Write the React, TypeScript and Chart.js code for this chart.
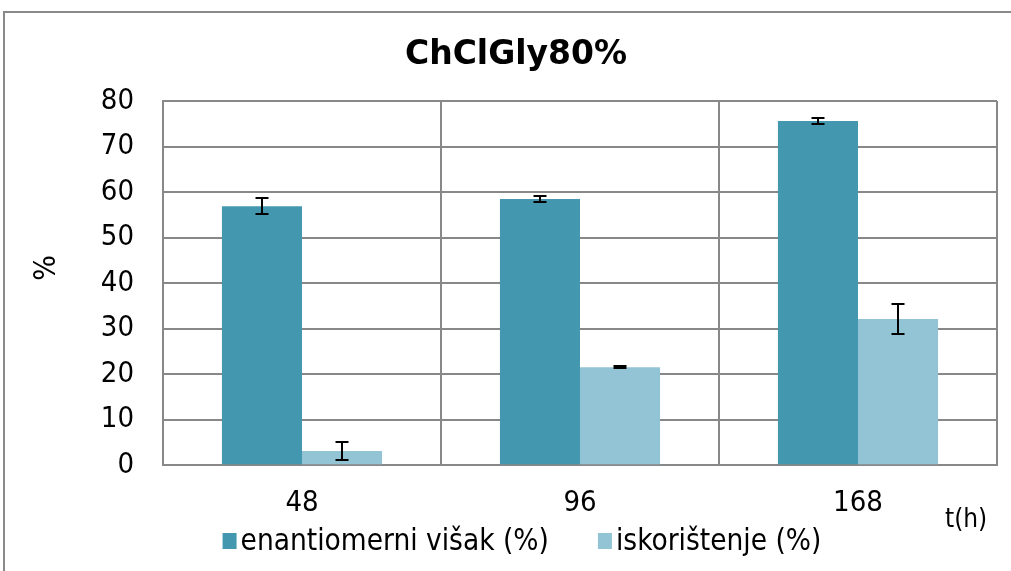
import React, { useEffect, useRef } from "react";
import { Chart, registerables } from "chart.js";

Chart.register(...registerables);

const categories = ["48", "96", "168"];
const seriesLabels = ["enantiomerni višak (%)", "iskorištenje (%)"];
const enantiomerniVisak = [56.9, 58.5, 75.6];
const enantiomerniVisakErr = [1.75, 0.7, 0.6];
const iskoristenje = [3.1, 21.5, 32.1];
const iskoristenjeErr = [2.0, 0.2, 3.2];
const yTicks = [0, 10, 20, 30, 40, 50, 60, 70, 80];
const titleText = "ChClGly80%";
const yTitle = "%";
const xTitle = "t(h)";

const FONT = '"DejaVu Sans Condensed", "DejaVu Sans", sans-serif';
const TITLE_FONT = '"DejaVu Sans", sans-serif';
const COLORS = ["#4398AF", "#93C4D5"];
const GRID = "#888888";

const errors = [enantiomerniVisakErr, iskoristenjeErr];

const extrasPlugin = {
  id: "extras",
  beforeDraw(chart: any) {
    const ctx = chart.ctx;
    ctx.save();
    ctx.fillStyle = "#ffffff";
    ctx.fillRect(0, 0, chart.width, chart.height);
    ctx.strokeStyle = "#8a8a8a";
    ctx.lineWidth = 2;
    ctx.strokeRect(4, 12, chart.width + 100, chart.height + 100);
    ctx.restore();
  },
  afterDatasetsDraw(chart: any) {
    const ctx = chart.ctx;
    const y = chart.scales.y;
    ctx.save();
    ctx.strokeStyle = "#000000";
    ctx.lineWidth = 2;
    chart.data.datasets.forEach((ds: any, di: number) => {
      const meta = chart.getDatasetMeta(di);
      meta.data.forEach((bar: any, i: number) => {
        const v = ds.data[i];
        const e = errors[di][i];
        const yTop = Math.round(y.getPixelForValue(v + e));
        const yBot = Math.round(y.getPixelForValue(v - e));
        const x = Math.round(bar.x);
        ctx.beginPath();
        ctx.moveTo(x, yTop);
        ctx.lineTo(x, yBot);
        ctx.moveTo(x - 6.5, yTop);
        ctx.lineTo(x + 6.5, yTop);
        ctx.moveTo(x - 6.5, yBot);
        ctx.lineTo(x + 6.5, yBot);
        ctx.stroke();
      });
    });
    ctx.restore();
  },
  afterDraw(chart: any) {
    const ctx = chart.ctx;
    // title
    ctx.save();
    ctx.fillStyle = "#000000";
    ctx.font = `bold 33px ${TITLE_FONT}`;
    ctx.textAlign = "center";
    ctx.textBaseline = "middle";
    ctx.fillText(titleText, 516, 55);
    ctx.restore();

    // y axis title
    ctx.save();
    ctx.fillStyle = "#000000";
    ctx.font = `30px ${FONT}`;
    ctx.textAlign = "center";
    ctx.textBaseline = "middle";
    ctx.translate(47, 268);
    ctx.rotate(-Math.PI / 2);
    ctx.fillText(yTitle, 0, 0);
    ctx.restore();

    ctx.save();
    ctx.fillStyle = "#000000";
    ctx.font = `26px ${FONT}`;
    ctx.textAlign = "left";
    ctx.textBaseline = "middle";
    ctx.fillText(xTitle, 945, 520);

    // legend
    ctx.font = `29.5px ${FONT}`;
    const boxW = 14;
    const boxH = 16;
    const gapText = 4;
    const gapItem = 49;
    const labels = chart.data.datasets.map((d: any) => d.label);
    const widths = labels.map((l: string) => boxW + gapText + ctx.measureText(l).width);
    const total = widths.reduce((a: number, b: number) => a + b, 0) + gapItem * (labels.length - 1);
    let x = 522 - total / 2;
    const cy = 541;
    labels.forEach((l: string, i: number) => {
      ctx.fillStyle = chart.data.datasets[i].backgroundColor;
      ctx.fillRect(x, cy - boxH / 2, boxW, boxH);
      ctx.fillStyle = "#000000";
      ctx.fillText(l, x + boxW + gapText, cy + 1);
      x += widths[i] + gapItem;
    });
    ctx.restore();
  },
};

export default function App() {
  const ref = useRef<HTMLCanvasElement | null>(null);
  useEffect(() => {
    document.body.style.margin = "0";
    const chart = new Chart(ref.current as HTMLCanvasElement, {
      type: "bar",
      data: {
        labels: categories,
        datasets: [
          {
            label: seriesLabels[0],
            data: enantiomerniVisak,
            backgroundColor: COLORS[0],
            borderWidth: 0,
          },
          {
            label: seriesLabels[1],
            data: iskoristenje,
            backgroundColor: COLORS[1],
            borderWidth: 0,
          },
        ],
      },
      options: {
        animation: false,
        responsive: false,
        maintainAspectRatio: false,
        layout: { padding: { left: 0, right: 14, top: 101, bottom: 29 } },
        datasets: {
          bar: { barPercentage: 1, categoryPercentage: 0.576 },
        },
        plugins: {
          legend: { display: false },
          tooltip: { enabled: false },
          title: { display: false },
        },
        scales: {
          x: {
            offset: true,
            grid: { display: true, color: GRID, lineWidth: 2, drawTicks: false, offset: true },
            border: { display: true, color: GRID, width: 2 },
            ticks: { color: "#000000", font: { family: FONT, size: 29 }, padding: 21 },
          },
          y: {
            min: 0,
            max: 80,
            afterBuildTicks: (s: any) => {
              s.ticks = yTicks.map((v) => ({ value: v }));
            },
            afterFit: (s: any) => {
              s.width = 163;
            },
            grid: { color: GRID, lineWidth: 2, drawTicks: false },
            border: { display: true, color: GRID, width: 2 },
            ticks: { color: "#000000", font: { family: FONT, size: 29 }, padding: 29 },
          },
        },
      },
      plugins: [extrasPlugin],
    });
    return () => chart.destroy();
  }, []);
  return (
    <div style={{ position: "fixed", left: 0, top: 0, width: 1011, height: 571 }}>
      <canvas ref={ref} width={1011} height={571} style={{ width: 1011, height: 571 }} />
    </div>
  );
}
